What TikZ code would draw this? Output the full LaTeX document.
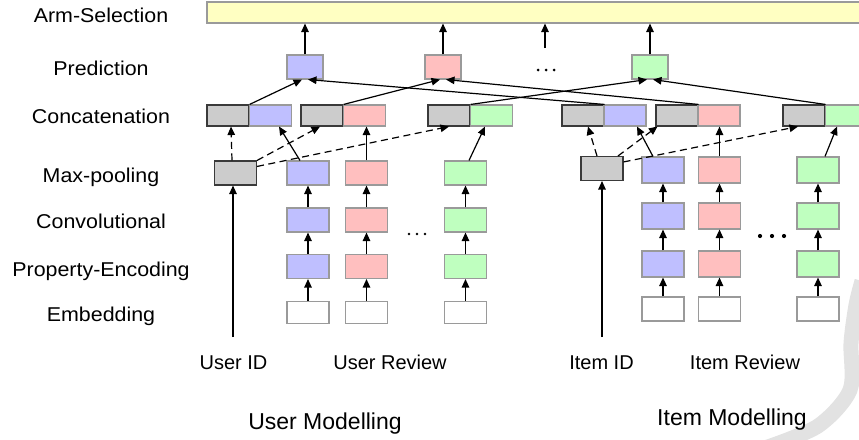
\documentclass[tikz,border=0pt]{standalone}
\usepackage{fontspec}
\setmainfont{Liberation Sans}
\newfontfamily\labfont{Liberation Sans}[FakeStretch=1.07]
\usetikzlibrary{arrows.meta}

\definecolor{cblue}{HTML}{BFBFFF}
\definecolor{cred}{HTML}{FFBFBF}
\definecolor{cgreen}{HTML}{BFFFBF}
\definecolor{cgray}{HTML}{CCCCCC}
\definecolor{cyellow}{HTML}{FFFFC2}
\definecolor{edgegray}{HTML}{9A9A9A}
\definecolor{edgedark}{HTML}{3A3A3A}
\definecolor{markgray}{HTML}{E2E2E2}

\begin{document}
\begin{tikzpicture}[x=1pt,y=-1pt,
  cellbox/.style={rectangle, inner sep=0pt, line width=1.1pt, draw=edgegray,
    minimum width=42pt, minimum height=24pt},
  tallcell/.style={cellbox, minimum height=26pt},
  embcell/.style={cellbox, fill=white, minimum height=22pt},
  catcell/.style={cellbox, minimum height=21pt},
  graycell/.style={fill=cgray, draw=edgedark},
  predbox/.style={cellbox, minimum width=36pt},
  layerlabel/.style={anchor=base, inner sep=0pt, font=\labfont\fontsize{20}{24}\selectfont},
  inputlabel/.style={anchor=base, inner sep=0pt, font=\fontsize{20}{24}\selectfont},
  grouplabel/.style={anchor=base, inner sep=0pt, font=\fontsize{23}{27}\selectfont},
  flow/.style={line width=1.2pt, -{Triangle[length=8.5pt,width=7.5pt]}},
  dashflow/.style={flow, dash pattern=on 7pt off 4.5pt},
  dotmark/.style={circle, fill=black, inner sep=0pt, minimum size=3pt}
]
\useasboundingbox (0,0) rectangle (859,439);
\clip (0,0) rectangle (859,439);

% faint mark in the lower right corner
\draw[markgray, line width=15pt]
  plot[smooth] coordinates {(862,281) (856,305) (851,343) (850,390) (818,426) (765,448)};

% layer names
\node[layerlabel] (lArm)  at (101,23)    {Arm-Selection};
\node[layerlabel] (lPred) at (101,75)    {Prediction};
\node[layerlabel] (lCat)  at (101,123)   {Concatenation};
\node[layerlabel] (lPool) at (101,182.5) {Max-pooling};
\node[layerlabel] (lConv) at (101,228.5) {Convolutional};
\node[layerlabel] (lProp) at (101,276.5) {Property-Encoding};
\node[layerlabel] (lEmb)  at (101,321.5) {Embedding};

% arm selection bar
\node[rectangle, draw=edgegray, line width=1.1pt, fill=cyellow, inner sep=0pt,
  minimum width=663pt, minimum height=21pt] (arm) at (538.5,12.5) {};

% prediction boxes
\node[predbox, fill=cblue]  (pb) at (305,67) {};
\node[predbox, fill=cred]   (pr) at (443,67) {};
\node[predbox, fill=cgreen] (pg) at (650,67) {};
\node[dotmark] (pd1) at (538,70) {};
\node[dotmark] (pd2) at (546,70) {};
\node[dotmark] (pd3) at (554,70) {};
\coordinate (pdtop) at (545,48);

% concatenation cells, user side
\node[catcell, graycell]    (ucg1) at (228,115.5) {};
\node[catcell, fill=cblue]  (ucc1) at (270.5,115.5) {};
\node[catcell, graycell]    (ucg2) at (322,115.5) {};
\node[catcell, fill=cred]   (ucc2) at (364.5,115.5) {};
\node[catcell, graycell]    (ucg3) at (449,115.5) {};
\node[catcell, fill=cgreen] (ucc3) at (491.5,115.5) {};
% concatenation cells, item side
\node[catcell, graycell]    (icg1) at (583,115.5) {};
\node[catcell, fill=cblue]  (icc1) at (625,115.5) {};
\node[catcell, graycell]    (icg2) at (677,115.5) {};
\node[catcell, fill=cred]   (icc2) at (719,115.5) {};
\node[catcell, graycell]    (icg3) at (804,115.5) {};
\node[catcell, fill=cgreen] (icc3) at (846.5,115.5) {};

% user columns
\node[cellbox, graycell]    (upool) at (235.5,173) {};
\node[cellbox, fill=cblue]  (umb) at (308,173) {};
\node[cellbox, fill=cred]   (umr) at (366.5,173) {};
\node[cellbox, fill=cgreen] (umg) at (465.5,173) {};
\node[cellbox, fill=cblue]  (uvb) at (308,220) {};
\node[cellbox, fill=cred]   (uvr) at (366.5,220) {};
\node[cellbox, fill=cgreen] (uvg) at (465.5,220) {};
\node[cellbox, fill=cblue]  (upb) at (308,266.5) {};
\node[cellbox, fill=cred]   (upr) at (366.5,266.5) {};
\node[cellbox, fill=cgreen] (upg) at (465.5,266.5) {};
\node[embcell] (ueb) at (308,312.5) {};
\node[embcell] (uer) at (366.5,312.5) {};
\node[embcell] (ueg) at (465.5,312.5) {};
\node[dotmark, minimum size=2.8pt] (ud1) at (409,234) {};
\node[dotmark, minimum size=2.8pt] (ud2) at (417,234) {};
\node[dotmark, minimum size=2.8pt] (ud3) at (425,234) {};

% item columns
\node[cellbox, graycell]     (ipool) at (602,168.5) {};
\node[tallcell, fill=cblue]  (imb) at (663,170) {};
\node[tallcell, fill=cred]   (imr) at (719.5,170) {};
\node[tallcell, fill=cgreen] (img) at (818,170) {};
\node[tallcell, fill=cblue]  (ivb) at (663,216) {};
\node[tallcell, fill=cred]   (ivr) at (719.5,216) {};
\node[tallcell, fill=cgreen] (ivg) at (818,216) {};
\node[tallcell, fill=cblue]  (ipb) at (663,264) {};
\node[tallcell, fill=cred]   (ipr) at (719.5,264) {};
\node[tallcell, fill=cgreen] (ipg) at (818,264) {};
\node[embcell, minimum height=24pt] (ieb) at (663,309) {};
\node[embcell, minimum height=24pt] (ier) at (719.5,309) {};
\node[embcell, minimum height=24pt] (ieg) at (818,309) {};
\node[dotmark, minimum size=4.2pt] (id1) at (760,236) {};
\node[dotmark, minimum size=4.2pt] (id2) at (772,236) {};
\node[dotmark, minimum size=4.2pt] (id3) at (784,236) {};

% inputs and group names
\node[inputlabel] (uid)  at (233.5,369) {User ID};
\node[inputlabel] (urev) at (390,369)   {User Review};
\node[inputlabel] (iid)  at (601.5,369) {Item ID};
\node[inputlabel] (irev) at (745,369)   {Item Review};
\node[grouplabel] (umod) at (325,429)   {User Modelling};
\node[grouplabel] (imod) at (732,425)   {Item Modelling};
\coordinate (uidtop) at (233,337);
\coordinate (iidtop) at (602,337);

% ID inputs into max-pooling
\draw[flow] (uidtop) -- (uidtop |- upool.south);
\draw[flow] (iidtop) -- (iidtop |- ipool.south);

% review columns: embedding -> property encoding -> convolution -> pooling
\foreach \s in {u,i}{
  \foreach \c in {b,r,g}{
    \draw[flow] (\s e\c.north) -- (\s p\c.south);
    \draw[flow] (\s p\c.north) -- (\s v\c.south);
    \draw[flow] (\s v\c.north) -- (\s m\c.south);
  }
}

% user pooling -> concatenation
\draw[dashflow] ([xshift=-3.5pt]upool.north) -- ([xshift=3pt]ucg1.south);
\draw[dashflow] (upool.north east) -- ([xshift=-2pt]ucg2.south);
\draw[dashflow] ([yshift=-6pt]upool.north east) -- (ucg3.south);
\draw[flow] ([xshift=-8pt]umb.north) -- ([xshift=8.5pt]ucc1.south);
\draw[flow] (umr.north) -- (umr.north |- ucc2.south);
\draw[flow] ([xshift=3.5pt]umg.north) -- ([xshift=-6.5pt]ucc3.south);

% item pooling -> concatenation
\draw[dashflow] ([xshift=-5pt]ipool.north) -- ([xshift=5pt]icg1.south);
\draw[dashflow] ([xshift=16pt]ipool.north) -- ([xshift=2pt]icg2.south west);
\draw[dashflow] ([yshift=-6pt]ipool.north east) -- ([xshift=-6pt]icg3.south);
\draw[flow] ([xshift=-10pt]imb.north) -- ([xshift=12pt]icc1.south);
\draw[flow] (imr.north) -- (imr.north |- icc2.south);
\draw[flow] ([xshift=7pt]img.north) -- ([xshift=-9.5pt]icc3.south);

% concatenation -> prediction
\draw[flow] (ucg1.north east) -- ([xshift=-3pt]pb.south);
\draw[flow] (icg1.north east) -- ([xshift=3pt]pb.south);
\draw[flow] (ucg2.north east) -- ([xshift=-3pt]pr.south);
\draw[flow] (icg2.north east) -- ([xshift=3pt]pr.south);
\draw[flow] (ucg3.north east) -- ([xshift=-3pt]pg.south);
\draw[flow] (icg3.north east) -- ([xshift=3pt]pg.south);

% prediction -> arm selection
\draw[flow] (pb.north) -- (pb.north |- arm.south);
\draw[flow] (pr.north) -- (pr.north |- arm.south);
\draw[flow] (pg.north) -- (pg.north |- arm.south);
\draw[flow] (pdtop) -- (pdtop |- arm.south);
\end{tikzpicture}
\end{document}
